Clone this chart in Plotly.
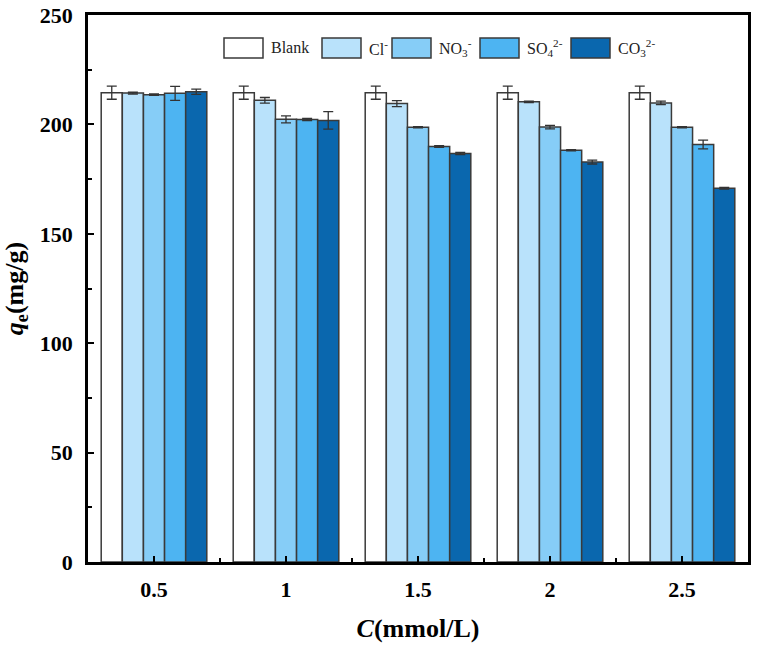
import plotly.graph_objects as go

categories = ["0.5", "1", "1.5", "2", "2.5"]
series_names = ["Blank", "Cl<sup>-</sup>", "NO<sub>3</sub><sup>-</sup>", "SO<sub>4</sub><sup>2-</sup>", "CO<sub>3</sub><sup>2-</sup>"]
blank = [214.5, 214.5, 214.5, 214.5, 214.5]
cl = [214.3, 211.0, 209.5, 210.3, 209.8]
no3 = [213.6, 202.3, 198.7, 198.8, 198.7]
so4 = [214.2, 202.2, 189.9, 188.2, 190.8]
co3 = [214.9, 201.8, 186.7, 182.8, 170.8]
blank_err = [3.0, 3.0, 3.0, 3.0, 3.0]
cl_err = [0.4, 1.3, 1.4, 0.3, 0.8]
no3_err = [0.3, 1.6, 0.3, 0.8, 0.3]
so4_err = [3.2, 0.5, 0.4, 0.3, 2.0]
co3_err = [1.2, 4.0, 0.5, 0.9, 0.4]
colors = ["#ffffff", "#b9e2fb", "#86cdf7", "#4db4f2", "#0a67ae"]

values = [blank, cl, no3, so4, co3]
errors = [blank_err, cl_err, no3_err, so4_err, co3_err]
xpos = list(range(len(categories)))

SERIF = "Liberation Serif, Times New Roman, serif"

fig = go.Figure()
for name, v, e, c in zip(series_names, values, errors, colors):
    fig.add_trace(go.Bar(
        x=xpos, y=v, name=name,
        marker=dict(color=c, line=dict(color="#3a3a3a", width=1.5)),
        error_y=dict(type="data", array=e, visible=True, color="#333333", thickness=1.3, width=5),
        showlegend=False,
    ))

# custom legend (wide swatches like the original)
L, R, T, B = 88, 748, 15, 562
pw, ph = R - L, B - T
def px(x):
    return (x - L) / pw
def py(y):
    return 1 - (y - T) / ph
box_x = [224, 322, 392, 480, 571]
box_w = 39
for i, (name, c) in enumerate(zip(series_names, colors)):
    x0 = box_x[i]
    fig.add_shape(type="rect", xref="paper", yref="paper",
                  x0=px(x0), x1=px(x0 + box_w), y0=py(58), y1=py(38),
                  fillcolor=c, line=dict(color="#3a3a3a", width=1.5))
    fig.add_annotation(xref="paper", yref="paper", x=px(x0 + box_w + 6), y=py(48),
                       text=name, showarrow=False, xanchor="left", yanchor="middle",
                       font=dict(family=SERIF, size=16, color="#222"))

fig.update_layout(
    width=758, height=647,
    margin=dict(l=L, r=758 - R, t=T, b=647 - B, autoexpand=False),
    plot_bgcolor="white", paper_bgcolor="white",
    font=dict(family=SERIF, color="black"),
    barmode="group", bargap=0.2, bargroupgap=0,
    xaxis=dict(
        automargin=False,
        range=[-0.5, len(categories) - 0.5],
        tickmode="array", tickvals=xpos, ticktext=categories,
        showgrid=False, zeroline=False,
        showline=True, linecolor="black", linewidth=2.5, mirror=True,
        ticks="inside", ticklen=6, tickwidth=2, tickcolor="black",
        minor=dict(ticks="inside", ticklen=4, tickwidth=2, tickcolor="black",
                   tickmode="linear", tick0=-0.5, dtick=1, showgrid=False),
        tickfont=dict(family=SERIF, size=22, color="black", weight="bold"),
        ticklabelstandoff=6,
        title=dict(text="<i>C</i>(mmol/L)", font=dict(family=SERIF, size=26, color="black", weight="bold"), standoff=18),
    ),
    yaxis=dict(
        automargin=False,
        range=[0, 250], dtick=50,
        showline=True, linecolor="black", linewidth=2.5, mirror=True,
        ticks="inside", ticklen=6, tickwidth=2, tickcolor="black",
        minor=dict(ticks="inside", ticklen=4, tickwidth=2, tickcolor="black", dtick=25),
        showgrid=False, zeroline=False,
        tickfont=dict(family=SERIF, size=22, color="black", weight="bold"),
        ticklabelstandoff=8,
        title=dict(text="<i>q</i><sub>e</sub>(mg/g)", font=dict(family=SERIF, size=26, color="black", weight="bold"), standoff=14),
    ),
)
fig.write_html("out.html", config={"displayModeBar": False},
               post_script="document.body.style.margin='0';document.body.style.overflow='hidden';")
